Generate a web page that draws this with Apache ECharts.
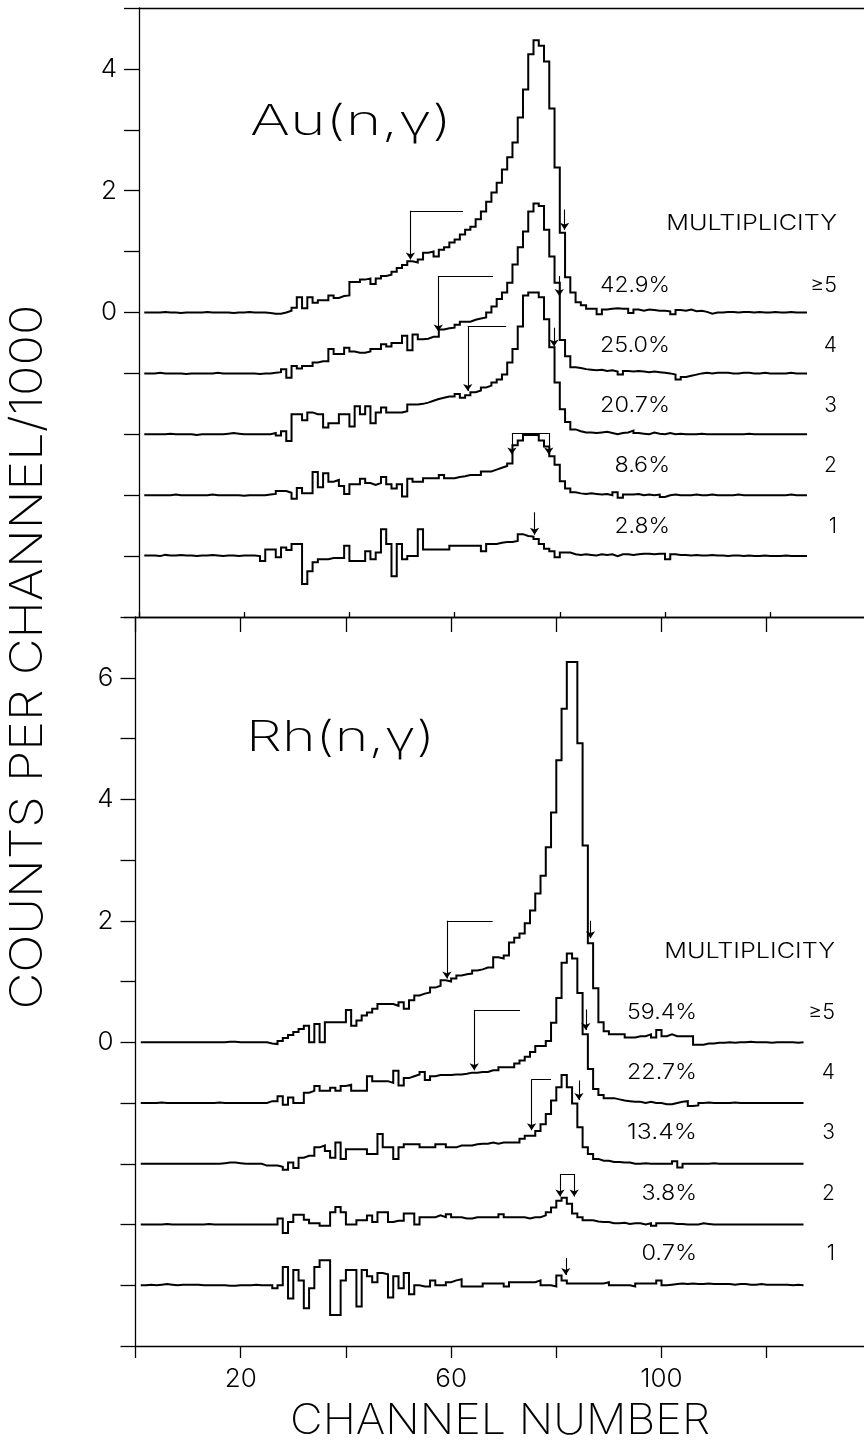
<!DOCTYPE html>
<html>
<head>
<meta charset="utf-8">
<script src="https://cdn.jsdelivr.net/npm/echarts@6/dist/echarts.min.js"></script>
<style>
html,body{margin:0;padding:0;background:#fff;}
#chart{width:864px;height:1444px;}
</style>
</head>
<body>
<div id="chart"></div>
<script>
// ---------------- DATA (counts per channel / 1000), channels 1..127 ----------------
const firstChannel = 1;

// Au(n,gamma) spectra, one per multiplicity
const auMultGe5 = [
  0,0,0,0.01,0,0,-0.01,0,0,0,
  0,0.01,0,0,0,0,-0.01,0,0,0.01,
  0,0,0,-0.01,-0.02,-0.02,0,0.03,0.08,0.25,
  0.07,0.25,0.16,0.2,0.2,0.28,0.24,0.27,0.28,0.5,
  0.5,0.54,0.56,0.47,0.56,0.6,0.62,0.67,0.73,0.78,
  0.84,0.82,0.87,0.98,1.0,0.92,1.03,1.07,1.15,1.2,
  1.28,1.36,1.41,1.53,1.66,1.82,1.97,2.13,2.35,2.55,
  2.79,3.2,3.66,4.24,4.47,4.38,4.12,3.35,2.38,1.31,
  0.58,0.33,0.17,0.12,0.06,0.06,-0.03,0.05,0.06,0.07,
  0.06,0.06,-0.01,0.05,0.03,0.05,0.04,0.03,0.03,0.02,
  -0.03,0.04,0.03,0.05,0.02,0.03,0.01,-0.02,0,0,
  0.01,0.01,0,0.01,0.01,0,0.01,0,0,0.01,
  0,0,0.01,0,0,0,0
];
const auMult4 = [
  0,0,0.01,0,0,0,0,-0.01,0,0,
  0,0,0,0.01,0,0,0,0,0,0,
  0,-0.01,0,0,0.01,0.02,0.07,-0.07,0.12,0.08,
  0.12,0.12,0.18,0.2,0.2,0.4,0.32,0.32,0.42,0.36,
  0.34,0.34,0.36,0.4,0.4,0.48,0.44,0.5,0.5,0.62,
  0.38,0.64,0.56,0.57,0.6,0.6,0.72,0.74,0.75,0.8,
  0.85,0.85,0.88,0.9,0.92,1.0,1.1,1.22,1.33,1.49,
  1.79,2.07,2.33,2.66,2.79,2.75,2.36,1.92,1.49,0.55,
  0.28,0.1,0.09,0.07,0.06,0.05,0.06,0.04,0.05,0.03,
  -0.02,0.04,0.03,0.04,0.03,0.02,0.03,0.02,0.01,0,
  -0.02,-0.1,-0.06,-0.04,-0.02,0,0.01,0,0.01,0.01,
  0.01,0,0,0.01,0.01,0,0,0.01,0,0,
  0,0,0.01,0,0,0,0
];
const auMult3 = [
  0,0,0,0,0.01,0,0,0,0,-0.01,
  0,0,0,0,0,0.01,0.02,0.01,0,0,
  0,0,0,0,0.02,-0.02,0.05,-0.11,0.33,0.33,
  0.23,0.36,0.33,0.33,0.11,0.18,0.18,0.33,0.33,0.13,
  0.46,0.33,0.46,0.18,0.36,0.44,0.36,0.36,0.36,0.38,
  0.49,0.49,0.5,0.52,0.55,0.58,0.6,0.62,0.62,0.66,
  0.6,0.64,0.69,0.72,0.77,0.8,0.85,0.9,0.98,1.18,
  1.4,1.77,2.28,2.33,2.33,2.25,1.89,1.43,0.85,0.41,
  0.2,0.08,0.05,0.03,0.03,0.02,0.03,0.04,0.02,0,
  0.02,0.03,0.06,0.02,0.01,0,0.03,0.01,0,0.02,
  0,0.01,0,0,0,0.01,0,0,0,0,
  0,0,0,0,0.01,0,0,0,0,0,
  0,0,0,0,0,0,0
];
const auMult2 = [
  0,0,0,0,0,0.01,0,0,0,0,
  0,0,0.01,0,0,0,0,0,-0.01,0,
  0,0,0,0.01,0.02,0.07,0.07,0.04,-0.06,0.12,
  0.03,0.03,0.38,0.13,0.36,0.22,0.25,0.15,0.02,0.18,
  0.18,0.27,0.2,0.17,0.2,0.3,0.18,0.11,0.18,-0.02,
  0.27,0.22,0.22,0.28,0.28,0.28,0.33,0.28,0.28,0.3,
  0.31,0.33,0.33,0.33,0.39,0.39,0.42,0.45,0.48,0.52,
  0.82,0.9,0.99,0.99,0.99,0.9,0.8,0.64,0.5,0.23,
  0.11,0.05,0.03,0.02,0.03,0.02,0.01,0.02,0,0.05,
  -0.04,0.01,0.01,0.02,0,0.01,0,0.01,-0.03,0,
  0.01,0,0,0,0.01,0,0,0.01,0,0,
  0,0,0.01,0,0,0,0,0,0,0,
  0,0,0.01,0,0,0,0
];
const auMult1 = [
  0.01,0.01,0,0.02,0.01,0.01,0.02,0.01,0.01,0,
  0.01,0.01,0.02,0.01,0,0.01,0.01,0,0.01,0.01,
  0.01,0,-0.08,0.11,0.11,-0.02,0.14,0.1,0.2,0.2,
  -0.46,-0.25,-0.1,-0.05,-0.05,-0.03,-0.03,-0.03,0.17,-0.08,
  -0.08,-0.08,0.08,-0.05,0.06,0.44,0.2,-0.33,0.2,-0.05,
  0,0,0.44,0.11,0.11,0.11,0.11,0.11,0.17,0.17,
  0.17,0.17,0.17,0.17,0.08,0.2,0.2,0.22,0.23,0.23,
  0.25,0.36,0.33,0.32,0.28,0.2,0.12,0.08,-0.02,0.06,
  0.06,0.03,0.02,0.03,0.02,0.01,0.03,0.02,0.03,0,
  0.03,0.03,0.02,0.03,0.04,0.04,0.03,0.04,0.04,-0.05,
  0.03,0.02,0.02,0.01,0.02,0.01,0.01,0.02,0.01,0.01,
  0,0.01,0.01,0,0.01,0,0,0.01,0,0,
  0,0.01,0,0,0,0,0
];

// Rh(n,gamma) spectra, one per multiplicity
const rhMultGe5 = [
  0,0,0,0,0,0,0,0,0,0,
  0,0,0,0,0,0,0.01,0.01,0,0,
  0,0,0,0,-0.02,-0.03,0.02,0.07,0.12,0.17,
  0.22,0.27,0,0.3,0,0.33,0.33,0.33,0.33,0.53,
  0.27,0.36,0.44,0.49,0.55,0.63,0.63,0.63,0.6,0.66,
  0.55,0.69,0.77,0.8,0.82,0.9,0.93,1.02,1.0,1.05,
  1.1,1.12,1.13,1.18,1.2,1.23,1.23,1.4,1.38,1.43,
  1.64,1.72,1.79,1.96,2.17,2.45,2.74,3.21,3.78,4.64,
  5.49,6.26,6.26,4.92,3.24,1.63,0.89,0.33,0.18,0.13,
  0.13,0.13,0.08,0.08,0.1,0.1,0.13,0.08,0.2,0.1,
  0.13,0.1,0.1,0.1,0.1,-0.04,-0.04,-0.02,-0.02,-0.01,
  -0.01,0,-0.01,0,0,0.01,0,0,0,-0.01,
  0,0,0,0,-0.01,0,0
];
const rhMult4 = [
  0,0,0,0.01,0,0,0,0,0,0,
  0,0,0,0,0.01,0,0,0,0,0,
  0,0,0,0,0.03,0.03,0.11,-0.03,0.09,0,
  0,0.17,0.2,0.28,0.2,0.2,0.25,0.2,0.28,0.3,
  0.2,0.2,0.2,0.44,0.36,0.36,0.36,0.33,0.53,0.29,
  0.41,0.44,0.47,0.51,0.38,0.44,0.46,0.46,0.46,0.47,
  0.47,0.48,0.5,0.5,0.51,0.51,0.54,0.54,0.59,0.59,
  0.59,0.65,0.7,0.76,0.84,0.94,0.94,1.02,1.32,1.73,
  2.31,2.46,2.38,1.81,1.13,0.56,0.23,0.13,0.08,0.08,
  0.06,0.04,0.03,0.02,0.02,0,0.02,0,0,-0.02,
  -0.02,0,0.02,0.03,-0.05,-0.04,0,0.01,0,0,
  0,0,0.01,0,0,0,0,0,0,0,
  0,0,0,0,0,0,0
];
const rhMult3 = [
  0,0,0,0,0,0,0,0,0,0,
  0,0,0,0,0,0.01,0.02,0.02,0.01,0,
  0,0,0,-0.03,-0.03,-0.03,-0.05,-0.1,0.02,-0.07,
  0.1,0.13,0.13,0.27,0.3,0.21,0.1,0.35,0.08,0.24,
  0.24,0.24,0.24,0.16,0.16,0.49,0.27,0.27,0.08,0.27,
  0.32,0.32,0.32,0.27,0.27,0.27,0.32,0.32,0.27,0.27,
  0.3,0.3,0.3,0.32,0.33,0.33,0.35,0.33,0.35,0.35,
  0.35,0.35,0.41,0.46,0.46,0.54,0.65,0.82,1.04,1.26,
  1.46,1.26,0.99,0.6,0.27,0.16,0.08,0.05,0.05,0.03,
  0.03,0.02,0.02,0,0,0.01,0,0,0,0,
  0,0.04,-0.06,0,0,0,0,0,0.01,0,
  0,0,0,0,0,0,0,0,0,0,
  0,0,0,0,0,0,0
];
const rhMult2 = [
  0,0,0,0,0.01,0,0,0,0,0,
  0,0,0.01,0,0,0,0,0,0,0,
  0,0,0,0,0,0,0.1,-0.14,0.04,0.16,
  0.16,0.08,0.02,0.02,-0.02,-0.02,0.2,0.29,0.2,0,
  0,0.07,0.07,0.15,0.04,0.2,0.2,0.04,0.06,0.06,
  0.18,0.18,0,0.12,0.12,0.12,0.15,0.12,0.17,0.12,
  0.12,0.1,0.1,0.12,0.12,0.12,0.12,0.12,0.17,0.12,
  0.12,0.12,0.12,0.1,0.12,0.12,0.15,0.2,0.28,0.39,
  0.44,0.34,0.18,0.12,0.07,0.07,0.05,0.04,0.04,0.02,
  0.02,0.03,0.01,0.02,0.02,0,0.02,-0.02,0.02,0.02,
  0.02,0.01,0.01,0,0,0,0.02,0.01,0,0,
  0,0,0,0,0,0,0,0,0,0,
  0,0,0,0,0,0,0
];
const rhMult1 = [
  0,0.01,0,0.01,0.02,0.01,0,0.01,0.01,0.01,
  0.01,0,0,0,0,0,-0.01,-0.01,0,0,
  0,0.01,0,0,0,-0.05,0,0.3,-0.22,0.25,
  0.08,-0.38,-0.05,0.3,0.41,0.41,-0.49,-0.49,0.08,0.25,
  0.25,-0.35,0.25,0.15,0.05,0.2,0.18,-0.2,0.15,-0.05,
  0.2,-0.15,0,-0.02,-0.02,0.08,0,0,0.05,0.08,
  0.1,-0.02,-0.02,-0.02,-0.02,0.03,0.03,0.03,0.03,-0.02,
  0.05,0.05,0.05,0.05,0.05,0.08,0,0,-0.02,0.16,
  0.08,0.03,0.03,0.03,0.03,0.03,0.03,0.03,0.05,0,
  0,0,0,-0.02,0.03,0.03,0.03,0.03,0.08,0,
  0.01,0.02,0.03,0.02,0.03,0.02,0.02,0.03,0.02,0.02,
  0.02,0.02,0.01,0.02,0.02,0.01,0.01,0.02,0.01,0.01,
  0.01,0.01,0.01,0,0.01,0,0
];

// integration-window markers (channel, values relative to each spectrum's own zero)
const auBrackets = [
  {trace: 0, ch: 51.6, top: 1.67, tip: 0.87, end: 61.6},
  {trace: 1, ch: 56.9, top: 1.60, tip: 0.69, end: 67.3},
  {trace: 2, ch: 62.5, top: 1.78, tip: 0.71, end: 69.8}
];
const auPairArrows = [{trace: 3, from: 70.9, to: 77.9, top: 1.02, tip: 0.67}];
const auSmallArrows = [
  {trace: 0, ch: 80.9, top: 1.69, tip: 1.36},
  {trace: 1, ch: 79.9, top: 1.60, tip: 1.27},
  {trace: 2, ch: 78.9, top: 1.75, tip: 1.44},
  {trace: 4, ch: 75.2, top: 0.72, tip: 0.35}
];
const rhBrackets = [
  {trace: 0, ch: 59.2, top: 2.00, tip: 1.05, end: 67.9},
  {trace: 1, ch: 64.4, top: 1.53, tip: 0.54, end: 73.1},
  {trace: 2, ch: 75.3, top: 1.39, tip: 0.55, end: 79.0}
];
const rhPairArrows = [{trace: 3, from: 80.7, to: 83.4, top: 0.83, tip: 0.46}];
const rhSmallArrows = [
  {trace: 0, ch: 86.5, top: 2.00, tip: 1.71},
  {trace: 1, ch: 85.6, top: 1.54, tip: 1.20},
  {trace: 2, ch: 84.3, top: 1.37, tip: 1.05},
  {trace: 4, ch: 81.8, top: 0.45, tip: 0.17}
];

const auPercents = ['42.9%', '25.0%', '20.7%', '8.6%', '2.8%'];
const rhPercents = ['59.4%', '22.7%', '13.4%', '3.8%', '0.7%'];
const multiplicityLabels = ['\u22655', '4', '3', '2', '1'];
const xTickLabels = [20, 60, 100];
const auYTickLabels = [4, 2, 0];
const rhYTickLabels = [6, 4, 2, 0];

// ---------------- LAYOUT ----------------
const THIN = 'Inter, Lato, "Noto Sans", sans-serif';
const traceOffsets = [0, -1, -2, -3, -4];
const PX_PER_CH = 5.26;
const X_MAX = 140;
const INK = '#000';

const chart = echarts.init(document.getElementById('chart'), null, {renderer: 'canvas', width: 864, height: 1444});

function trace(values, offset, xi, yi) {
  return {
    type: 'line', xAxisIndex: xi, yAxisIndex: yi, step: 'end', symbol: 'none',
    silent: true, animation: false, z: 3,
    lineStyle: {color: INK, width: 2, join: 'miter'},
    data: values.map((v, i) => [firstChannel + i, +(v + offset).toFixed(3)])
  };
}

function markers(brackets, pairs, smalls, xi, yi) {
  const plain = [], arrows = [];
  brackets.forEach(b => {
    const o = traceOffsets[b.trace];
    plain.push({coords: [[b.end, b.top + o], [b.ch, b.top + o]]});
    arrows.push({coords: [[b.ch, b.top + o], [b.ch, b.tip + o]]});
  });
  pairs.forEach(p => {
    const o = traceOffsets[p.trace];
    plain.push({coords: [[p.from, p.top + o], [p.to, p.top + o]]});
    arrows.push({coords: [[p.from, p.top + o], [p.from, p.tip + o]]});
    arrows.push({coords: [[p.to, p.top + o], [p.to, p.tip + o]]});
  });
  smalls.forEach(s => {
    const o = traceOffsets[s.trace];
    arrows.push({coords: [[s.ch, s.top + o], [s.ch, s.tip + o]]});
  });
  const base = {type: 'lines', coordinateSystem: 'cartesian2d', xAxisIndex: xi, yAxisIndex: yi,
    silent: true, animation: false, z: 4, lineStyle: {color: INK, width: 1.1, opacity: 1, curveness: 0}};
  return [
    Object.assign({}, base, {symbol: 'none', data: plain}),
    Object.assign({}, base, {symbol: ['none', 'arrow'], symbolSize: 7, data: arrows})
  ];
}

const axisLine = {show: true, onZero: false, lineStyle: {color: INK, width: 1.3}};
const tickStyle = {color: INK, width: 1.3};

function xAxisCfg(gridIndex, position, tick, labels) {
  return {
    type: 'value', gridIndex, position, min: 0, max: X_MAX, interval: 20,
    axisLine, splitLine: {show: false},
    axisTick: tick ? Object.assign({show: true, lineStyle: tickStyle}, tick) : {show: false},
    axisLabel: labels ? {
      show: true, margin: 20, color: INK, fontFamily: THIN, fontWeight: 300, fontSize: 26,
      formatter: v => xTickLabels.indexOf(v) >= 0 ? String(v) : ''
    } : {show: false}
  };
}
function yAxisCfg(gridIndex, min, max, labelSet) {
  return {
    type: 'value', gridIndex, min, max, interval: 1,
    axisLine, splitLine: {show: false},
    axisTick: {show: true, inside: false, length: 15, lineStyle: tickStyle},
    axisLabel: {show: true, margin: 22, color: INK, fontFamily: THIN, fontWeight: 300, fontSize: 26,
      formatter: v => labelSet.indexOf(v) >= 0 ? String(v) : ''}
  };
}

const gridW = X_MAX * PX_PER_CH;
const series = [];
[auMultGe5, auMult4, auMult3, auMult2, auMult1].forEach((d, i) => series.push(trace(d, traceOffsets[i], 0, 0)));
[rhMultGe5, rhMult4, rhMult3, rhMult2, rhMult1].forEach((d, i) => series.push(trace(d, traceOffsets[i], 2, 1)));
series.push(...markers(auBrackets, auPairArrows, auSmallArrows, 0, 0));
series.push(...markers(rhBrackets, rhPairArrows, rhSmallArrows, 2, 1));

// text measuring, used to stretch the thin font to the wide plotter lettering
const measureCtx = document.createElement('canvas').getContext('2d');
function textWidth(text, font) { measureCtx.font = font; return measureCtx.measureText(text).width; }

function thinTxt(text, x, y, size, weight, align, targetWidth, extra) {
  const font = weight + ' ' + size + 'px ' + THIN;
  const w = textWidth(text, font);
  const sx = (targetWidth && w) ? targetWidth / w : 1;
  return Object.assign({
    type: 'text', x, y, z: 10, silent: true, scaleX: sx,
    style: {text, fill: INK, font, align, textAlign: align, verticalAlign: 'middle', textVerticalAlign: 'middle'}
  }, extra || {});
}
// small plotter lettering: about 14.4 px per character (single glyphs left unstretched)
function smallTxt(text, x, y) {
  return thinTxt(text, x, y, 21, 300, 'right', text.length > 1 ? 14.4 * text.length - 2 : 0);
}

const topRowsY = [285.5, 345.5, 405.5, 465.5, 526.5];
const bottomRowsY = [1012.5, 1072.5, 1133, 1194, 1254];
const graphics = [
  thinTxt('Au(n,\u03b3)', 250, 122, 42, 200, 'left', 202),
  thinTxt('Rh(n,\u03b3)', 246, 738, 42, 200, 'left', 189),
  smallTxt('MULTIPLICITY', 837, 223.5),
  smallTxt('MULTIPLICITY', 835, 951.5),
  thinTxt('CHANNEL NUMBER', 500, 1421, 42, 200, 'center', 420),
  thinTxt('COUNTS PER CHANNEL/1000', 28, 657, 45, 200, 'center', 705, {rotation: Math.PI / 2})
];
auPercents.forEach((p, i) => graphics.push(smallTxt(p, 670, topRowsY[i])));
rhPercents.forEach((p, i) => graphics.push(smallTxt(p, 697, bottomRowsY[i])));
multiplicityLabels.forEach((m, i) => {
  graphics.push(smallTxt(m, 837, topRowsY[i]));
  graphics.push(smallTxt(m, 835, bottomRowsY[i]));
});

chart.setOption({
  animation: false,
  backgroundColor: '#fff',
  grid: [
    {left: 139, top: 8, width: gridW, height: 609, containLabel: false, outerBoundsMode: 'none'},
    {left: 135.5, top: 617, width: gridW, height: 729, containLabel: false, outerBoundsMode: 'none'}
  ],
  xAxis: [
    xAxisCfg(0, 'bottom', {inside: true, length: 5}, false),
    xAxisCfg(0, 'top', null, false),
    xAxisCfg(1, 'bottom', {inside: false, length: 12}, true),
    xAxisCfg(1, 'top', {inside: true, length: 15}, false)
  ],
  yAxis: [
    yAxisCfg(0, -5, 5, auYTickLabels),
    yAxisCfg(1, -5, 7, rhYTickLabels)
  ],
  series,
  graphic: graphics
});
</script>
</body>
</html>
